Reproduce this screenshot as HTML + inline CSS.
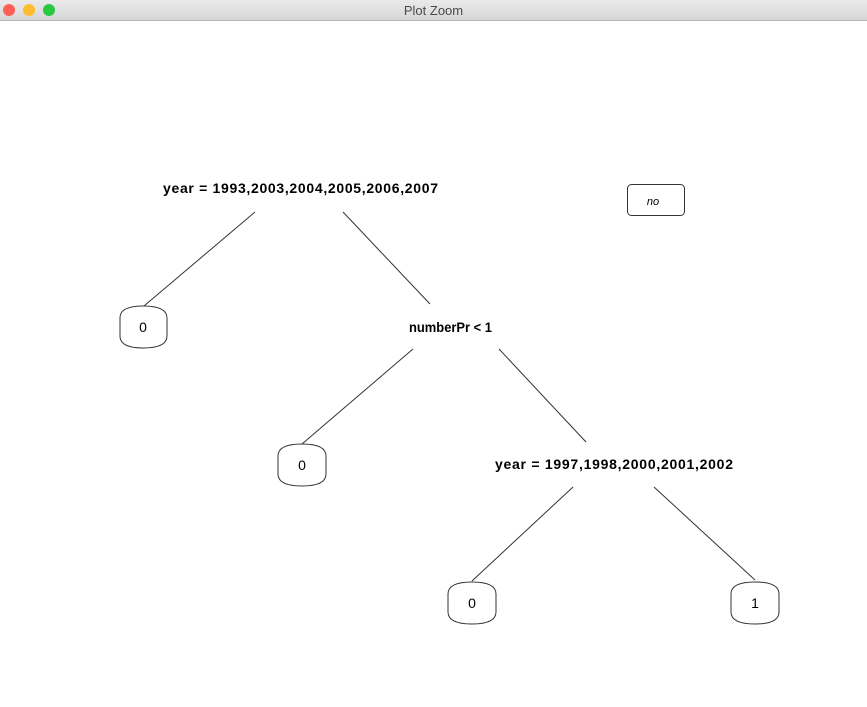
<!DOCTYPE html>
<html><head><style>
body{margin:0;width:867px;height:707px;background:#fff;overflow:hidden;font-family:"Liberation Sans",sans-serif}
.bar{position:absolute;left:0;top:0;width:867px;height:20px;background:linear-gradient(#ebebeb,#d6d6d6);border-bottom:1px solid #b4b4b4}
.t{position:absolute;top:3px;width:867px;text-align:center;font-size:13px;color:#4a4a4a}
.d{position:absolute;top:4px;width:12px;height:12px;border-radius:50%}
</style></head><body>
<div class="bar"><div class="d" style="left:3px;background:#fe5f57"></div><div class="d" style="left:23px;background:#febc2e"></div><div class="d" style="left:43px;background:#28c840"></div><div class="t">Plot Zoom</div></div>
<svg width="867" height="707" style="position:absolute;left:0;top:0" font-family="Liberation Sans, sans-serif">
<g stroke="#333" stroke-width="1" fill="none">
<line x1="255" y1="212" x2="144" y2="306"/><line x1="343" y1="212" x2="430" y2="304"/>
<line x1="413" y1="349" x2="302" y2="444"/><line x1="499" y1="349" x2="586" y2="442"/>
<line x1="573" y1="487" x2="472" y2="581"/><line x1="654" y1="487" x2="755" y2="580"/>
</g>
<g stroke="#333" fill="#fff">
<path d="M120,318 Q120,306 143,306 Q167,306 167,318 L167,336 Q167,348 143,348 Q120,348 120,336 Z"/>
<path d="M278,456 Q278,444 302,444 Q326,444 326,456 L326,474 Q326,486 302,486 Q278,486 278,474 Z"/>
<path d="M448,594 Q448,582 472,582 Q496,582 496,594 L496,612 Q496,624 472,624 Q448,624 448,612 Z"/>
<path d="M731,594 Q731,582 755,582 Q779,582 779,594 L779,612 Q779,624 755,624 Q731,624 731,612 Z"/>
<rect x="627.5" y="184.5" width="57" height="31" rx="4"/>
</g>
<g font-size="14" text-anchor="middle" fill="#000">
<text x="143" y="332">0</text><text x="302" y="470">0</text><text x="472" y="608">0</text><text x="755" y="608">1</text>
</g>
<g font-size="14" font-weight="bold">
<text x="163" y="193" textLength="275" lengthAdjust="spacing">year = 1993,2003,2004,2005,2006,2007</text>
<text x="409" y="332" textLength="83" lengthAdjust="spacingAndGlyphs">numberPr &lt; 1</text>
<text x="495" y="469" textLength="238" lengthAdjust="spacing">year = 1997,1998,2000,2001,2002</text>
</g>
<text x="653" y="205" font-size="11" font-style="italic" text-anchor="middle">no</text>
</svg>
</body></html>
